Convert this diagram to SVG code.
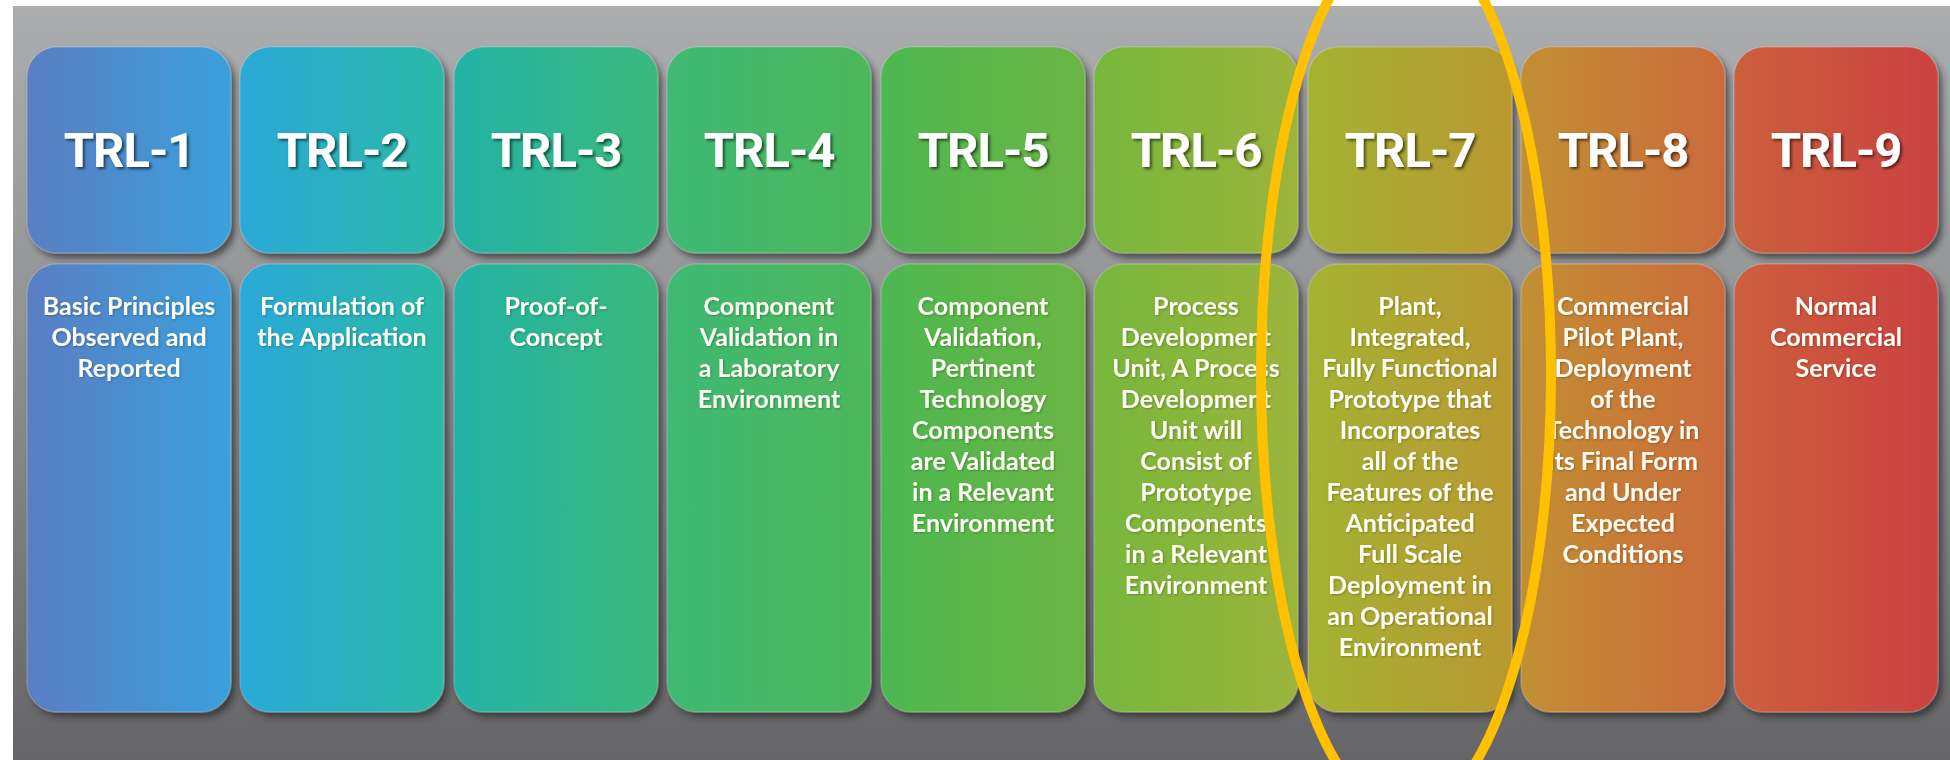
<svg xmlns="http://www.w3.org/2000/svg" width="1950" height="760" viewBox="0 0 1950 760">
  <defs>
    <linearGradient id="bg" x1="0" y1="0" x2="0" y2="1">
      <stop offset="0" stop-color="#acadaf"/>
      <stop offset="0.4" stop-color="#939496"/>
      <stop offset="1" stop-color="#656567"/>
    </linearGradient>
    <linearGradient id="g1" x1="0" y1="0" x2="1" y2="0"><stop offset="0" stop-color="#5a7ec3"/><stop offset="1" stop-color="#3aa0dc"/></linearGradient>
    <linearGradient id="g2" x1="0" y1="0" x2="1" y2="0"><stop offset="0" stop-color="#29a9d8"/><stop offset="1" stop-color="#2cb9a6"/></linearGradient>
    <linearGradient id="g3" x1="0" y1="0" x2="1" y2="0"><stop offset="0" stop-color="#22b3a6"/><stop offset="1" stop-color="#3bb97c"/></linearGradient>
    <linearGradient id="g4" x1="0" y1="0" x2="1" y2="0"><stop offset="0" stop-color="#3fb974"/><stop offset="1" stop-color="#4cb85a"/></linearGradient>
    <linearGradient id="g5" x1="0" y1="0" x2="1" y2="0"><stop offset="0" stop-color="#4db851"/><stop offset="1" stop-color="#6bb543"/></linearGradient>
    <linearGradient id="g6" x1="0" y1="0" x2="1" y2="0"><stop offset="0" stop-color="#77b73c"/><stop offset="1" stop-color="#9cb43a"/></linearGradient>
    <linearGradient id="g7" x1="0" y1="0" x2="1" y2="0"><stop offset="0" stop-color="#a3b333"/><stop offset="1" stop-color="#b9982f"/></linearGradient>
    <linearGradient id="g8" x1="0" y1="0" x2="1" y2="0"><stop offset="0" stop-color="#c28f33"/><stop offset="1" stop-color="#cc6a3b"/></linearGradient>
    <linearGradient id="g9" x1="0" y1="0" x2="1" y2="0"><stop offset="0" stop-color="#cc5f3c"/><stop offset="1" stop-color="#cb4141"/></linearGradient>
    <filter id="boxShadow" x="-10%" y="-10%" width="130%" height="130%">
      <feDropShadow dx="4" dy="5" stdDeviation="3" flood-color="#222" flood-opacity="0.65"/>
    </filter>
    <filter id="titleShadow" x="-10%" y="-20%" width="130%" height="150%">
      <feDropShadow dx="2" dy="2" stdDeviation="1.5" flood-color="#000" flood-opacity="0.6"/>
    </filter>
    <filter id="descShadow" x="-10%" y="-10%" width="130%" height="130%">
      <feDropShadow dx="1" dy="1" stdDeviation="1" flood-color="#000" flood-opacity="0.25"/>
    </filter>
  </defs>
  <style>
    .card { stroke: rgba(255,255,255,0.18); stroke-width: 1.5; filter: url(#boxShadow); }
    .title { font-family: Roboto, "Liberation Sans", sans-serif; font-weight: 700; font-size: 49px; letter-spacing: -1px; fill: #ffffff; text-anchor: middle; filter: url(#titleShadow); }
    .desc { font-family: Lato, "Liberation Sans", sans-serif; font-weight: 700; font-size: 25px; fill: #fbfbf2; text-anchor: middle; filter: url(#descShadow); }
  </style>

  <!-- page and backdrop panel -->
  <rect x="0" y="0" width="1950" height="760" fill="#ffffff"/>
  <rect x="13" y="6" width="1937" height="754" fill="url(#bg)"/>

  <!-- TRL-1 -->
  <g id="trl-1">
    <rect class="card" x="27" y="47" width="204" height="206" rx="30" fill="url(#g1)"/>
    <rect class="card" x="27" y="264" width="204" height="448" rx="30" fill="url(#g1)"/>
    <text class="title" x="129" y="167">TRL-1</text>
    <text class="desc" x="129" y="315"><tspan x="129">Basic Principles</tspan><tspan x="129" dy="31">Observed and</tspan><tspan x="129" dy="31">Reported</tspan></text>
  </g>

  <!-- TRL-2 -->
  <g id="trl-2">
    <rect class="card" x="240" y="47" width="204" height="206" rx="30" fill="url(#g2)"/>
    <rect class="card" x="240" y="264" width="204" height="448" rx="30" fill="url(#g2)"/>
    <text class="title" x="342" y="167">TRL-2</text>
    <text class="desc" x="342" y="315"><tspan x="342">Formulation of</tspan><tspan x="342" dy="31">the Application</tspan></text>
  </g>

  <!-- TRL-3 -->
  <g id="trl-3">
    <rect class="card" x="454" y="47" width="204" height="206" rx="30" fill="url(#g3)"/>
    <rect class="card" x="454" y="264" width="204" height="448" rx="30" fill="url(#g3)"/>
    <text class="title" x="556" y="167">TRL-3</text>
    <text class="desc" x="556" y="315"><tspan x="556">Proof-of-</tspan><tspan x="556" dy="31">Concept</tspan></text>
  </g>

  <!-- TRL-4 -->
  <g id="trl-4">
    <rect class="card" x="667" y="47" width="204" height="206" rx="30" fill="url(#g4)"/>
    <rect class="card" x="667" y="264" width="204" height="448" rx="30" fill="url(#g4)"/>
    <text class="title" x="769" y="167">TRL-4</text>
    <text class="desc" x="769" y="315"><tspan x="769">Component</tspan><tspan x="769" dy="31">Validation in</tspan><tspan x="769" dy="31">a Laboratory</tspan><tspan x="769" dy="31">Environment</tspan></text>
  </g>

  <!-- TRL-5 -->
  <g id="trl-5">
    <rect class="card" x="881" y="47" width="204" height="206" rx="30" fill="url(#g5)"/>
    <rect class="card" x="881" y="264" width="204" height="448" rx="30" fill="url(#g5)"/>
    <text class="title" x="983" y="167">TRL-5</text>
    <text class="desc" x="983" y="315"><tspan x="983">Component</tspan><tspan x="983" dy="31">Validation,</tspan><tspan x="983" dy="31">Pertinent</tspan><tspan x="983" dy="31">Technology</tspan><tspan x="983" dy="31">Components</tspan><tspan x="983" dy="31">are Validated</tspan><tspan x="983" dy="31">in a Relevant</tspan><tspan x="983" dy="31">Environment</tspan></text>
  </g>

  <!-- TRL-6 -->
  <g id="trl-6">
    <rect class="card" x="1094" y="47" width="204" height="206" rx="30" fill="url(#g6)"/>
    <rect class="card" x="1094" y="264" width="204" height="448" rx="30" fill="url(#g6)"/>
    <text class="title" x="1196" y="167">TRL-6</text>
    <text class="desc" x="1196" y="315"><tspan x="1196">Process</tspan><tspan x="1196" dy="31">Development</tspan><tspan x="1196" dy="31">Unit, A Process</tspan><tspan x="1196" dy="31">Development</tspan><tspan x="1196" dy="31">Unit will</tspan><tspan x="1196" dy="31">Consist of</tspan><tspan x="1196" dy="31">Prototype</tspan><tspan x="1196" dy="31">Components</tspan><tspan x="1196" dy="31">in a Relevant</tspan><tspan x="1196" dy="31">Environment</tspan></text>
  </g>

  <!-- TRL-7 -->
  <g id="trl-7">
    <rect class="card" x="1308" y="47" width="204" height="206" rx="30" fill="url(#g7)"/>
    <rect class="card" x="1308" y="264" width="204" height="448" rx="30" fill="url(#g7)"/>
    <text class="title" x="1410" y="167">TRL-7</text>
    <text class="desc" x="1410" y="315"><tspan x="1410">Plant,</tspan><tspan x="1410" dy="31">Integrated,</tspan><tspan x="1410" dy="31">Fully Functional</tspan><tspan x="1410" dy="31">Prototype that</tspan><tspan x="1410" dy="31">Incorporates</tspan><tspan x="1410" dy="31">all of the</tspan><tspan x="1410" dy="31">Features of the</tspan><tspan x="1410" dy="31">Anticipated</tspan><tspan x="1410" dy="31">Full Scale</tspan><tspan x="1410" dy="31">Deployment in</tspan><tspan x="1410" dy="31">an Operational</tspan><tspan x="1410" dy="31">Environment</tspan></text>
  </g>

  <!-- TRL-8 -->
  <g id="trl-8">
    <rect class="card" x="1521" y="47" width="204" height="206" rx="30" fill="url(#g8)"/>
    <rect class="card" x="1521" y="264" width="204" height="448" rx="30" fill="url(#g8)"/>
    <text class="title" x="1623" y="167">TRL-8</text>
    <text class="desc" x="1623" y="315"><tspan x="1623">Commercial</tspan><tspan x="1623" dy="31">Pilot Plant,</tspan><tspan x="1623" dy="31">Deployment</tspan><tspan x="1623" dy="31">of the</tspan><tspan x="1623" dy="31">Technology in</tspan><tspan x="1623" dy="31">its Final Form</tspan><tspan x="1623" dy="31">and Under</tspan><tspan x="1623" dy="31">Expected</tspan><tspan x="1623" dy="31">Conditions</tspan></text>
  </g>

  <!-- TRL-9 -->
  <g id="trl-9">
    <rect class="card" x="1734" y="47" width="204" height="206" rx="30" fill="url(#g9)"/>
    <rect class="card" x="1734" y="264" width="204" height="448" rx="30" fill="url(#g9)"/>
    <text class="title" x="1836" y="167">TRL-9</text>
    <text class="desc" x="1836" y="315"><tspan x="1836">Normal</tspan><tspan x="1836" dy="31">Commercial</tspan><tspan x="1836" dy="31">Service</tspan></text>
  </g>

  <!-- connectors: none between the levels -->
  <g id="connectors"></g>

  <!-- highlight ring around the seventh level -->
  <g id="highlight">
    <ellipse cx="1406" cy="374" rx="145" ry="443" fill="none" stroke="#ffc000" stroke-width="10"/>
  </g>
</svg>
